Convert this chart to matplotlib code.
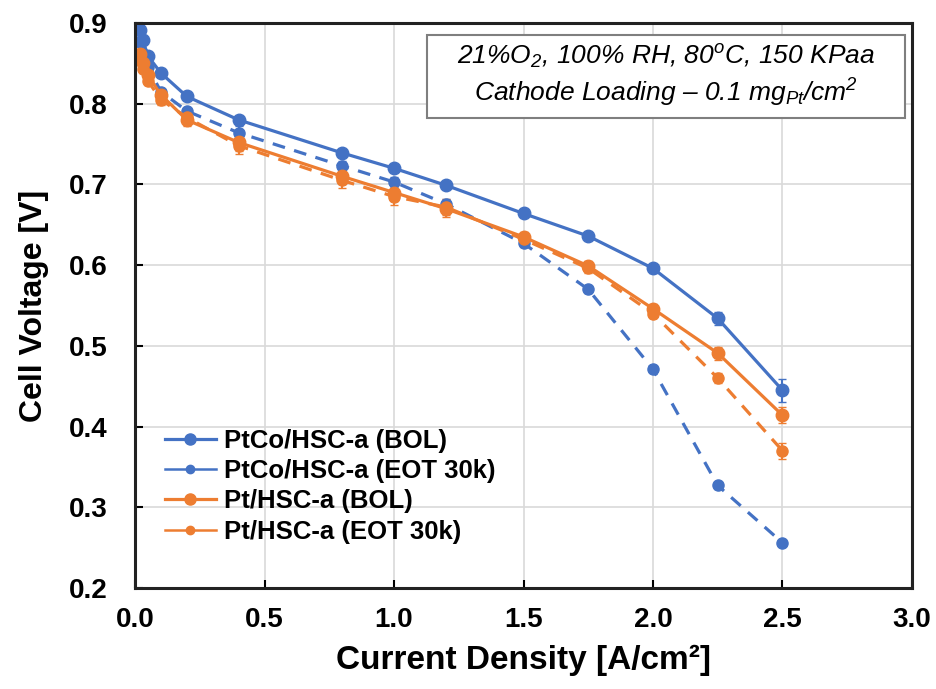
import matplotlib
matplotlib.use("Agg")
import matplotlib.pyplot as plt
from matplotlib.lines import Line2D
from matplotlib.patches import Rectangle

plt.rcParams['font.family'] = ['Liberation Sans', 'DejaVu Sans']
plt.rcParams['mathtext.fontset'] = 'custom'
plt.rcParams['mathtext.rm'] = 'Liberation Sans:italic'
plt.rcParams['mathtext.it'] = 'Liberation Sans:italic'

current = [0.02, 0.03, 0.05, 0.1, 0.2, 0.4, 0.8, 1.0, 1.2, 1.5, 1.75, 2.0, 2.25, 2.5]
ptco_bol = [0.891, 0.879, 0.859, 0.838, 0.809, 0.780, 0.739, 0.720, 0.699, 0.664, 0.636, 0.596, 0.534, 0.445]
ptco_eot = [0.877, 0.862, 0.845, 0.815, 0.791, 0.764, 0.723, 0.703, 0.676, 0.627, 0.570, 0.471, 0.327, 0.256]
pt_bol = [0.862, 0.850, 0.835, 0.811, 0.780, 0.752, 0.710, 0.690, 0.670, 0.635, 0.599, 0.546, 0.491, 0.414]
pt_eot = [0.856, 0.843, 0.828, 0.805, 0.783, 0.748, 0.705, 0.685, 0.672, 0.632, 0.596, 0.540, 0.460, 0.370]
ptco_bol_err = [0.006, 0.005, 0.004, 0.003, 0.003, 0.004, 0.004, 0.004, 0.004, 0.004, 0.005, 0.006, 0.008, 0.014]
ptco_eot_err = [0.006, 0.005, 0.004, 0.003, 0.004, 0.008, 0.006, 0.006, 0.006, 0.004, 0.004, 0.004, 0.004, 0.004]
pt_bol_err = [0.006, 0.005, 0.005, 0.006, 0.008, 0.010, 0.010, 0.010, 0.010, 0.006, 0.006, 0.006, 0.008, 0.010]
pt_eot_err = [0.006, 0.005, 0.005, 0.006, 0.008, 0.010, 0.010, 0.010, 0.010, 0.006, 0.006, 0.006, 0.006, 0.010]
labels = ['PtCo/HSC-a (BOL)', 'PtCo/HSC-a (EOT 30k)', 'Pt/HSC-a (BOL)', 'Pt/HSC-a (EOT 30k)']

blue = '#4472C4'
orange = '#ED7D31'

fig = plt.figure(figsize=(9.37, 6.89), dpi=100)
ax = fig.add_axes([0.1441, 0.1466, 0.8292, 0.8200])

series = [
    (ptco_bol, ptco_bol_err, blue, '-', 9, labels[0]),
    (ptco_eot, ptco_eot_err, blue, '--', 8, labels[1]),
    (pt_bol, pt_bol_err, orange, '-', 9, labels[2]),
    (pt_eot, pt_eot_err, orange, '--', 8, labels[3]),
]
handles = []
for vals, err, col, ls, ms, lab in series:
    kw = dict(dashes=(4, 3)) if ls == '--' else {}
    ax.errorbar(current, vals, yerr=err, color=col, ls=ls, lw=2.3, marker='o', ms=ms,
                capsize=3, elinewidth=1.5, **kw)
    handles.append(Line2D([], [], color=col, lw=2.3 if ls == '-' else 1.8, marker='o',
                          ms=8 if ls == '-' else 6, label=lab))

ax.set_xlim(0, 3.0)
ax.set_ylim(0.2, 0.9)
ax.set_xticks([0.0, 0.5, 1.0, 1.5, 2.0, 2.5, 3.0])
ax.set_xticklabels(['0.0', '0.5', '1.0', '1.5', '2.0', '2.5', '3.0'])
ax.set_yticks([0.2, 0.3, 0.4, 0.5, 0.6, 0.7, 0.8, 0.9])
ax.set_yticklabels(['0.2', '0.3', '0.4', '0.5', '0.6', '0.7', '0.8', '0.9'])
ax.grid(True, color='#d9d9d9', lw=1.2)
ax.set_axisbelow(True)
for s in ax.spines.values():
    s.set_linewidth(2.2)
    s.set_color('#222222')
ax.tick_params(direction='in', length=6, width=1.5, labelsize=20)
ax.tick_params(axis='y', pad=20)
ax.tick_params(axis='x', pad=14)
for t in ax.get_xticklabels() + ax.get_yticklabels():
    t.set_fontweight('bold')

ax.set_xlabel('Current Density [A/cm\u00b2]', fontsize=24, fontweight='bold', labelpad=8)
ax.set_ylabel('Cell Voltage [V]', fontsize=23, fontweight='bold', labelpad=14)

ax.legend(handles=handles, loc='lower left', bbox_to_anchor=(0.025, 0.06), frameon=False,
          prop={'weight': 'bold', 'size': 18.5}, handlelength=2.0, handletextpad=0.3,
          labelspacing=0.25, borderaxespad=0)

ax.add_patch(Rectangle((0.376, 0.832), 0.615, 0.147, transform=ax.transAxes,
                       fc='white', ec='#7f7f7f', lw=1.5, zorder=5))
ax.text(0.683, 0.906, '21%O$_2$, 100% RH, 80$^o$C, 150 KPaa\nCathode Loading \u2013 0.1 mg$_{Pt}$/cm$^2$',
        transform=ax.transAxes, ha='center', va='center', fontsize=19, style='italic',
        linespacing=1.25, zorder=6)

fig.savefig('out.png', dpi=100)
